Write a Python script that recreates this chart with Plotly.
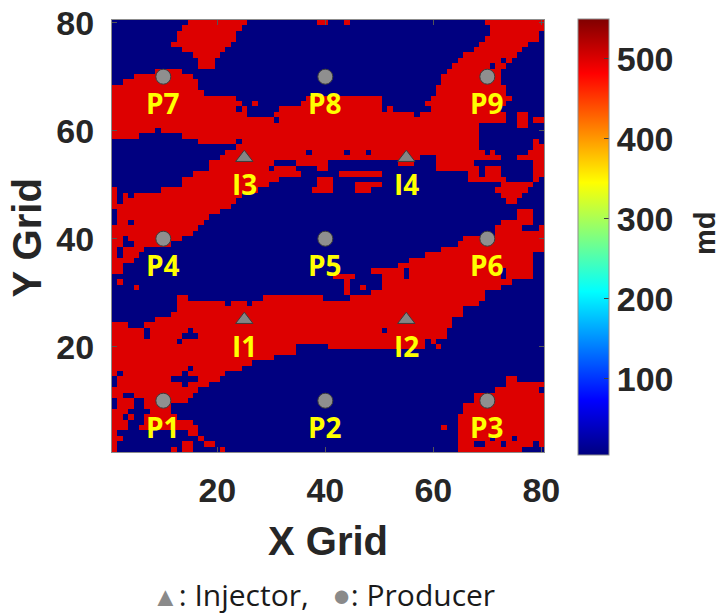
import numpy as np
import plotly.graph_objects as go

# Permeability of the two facies (md)
LOW_MD = 5
HIGH_MD = 500
CBAR_MIN, CBAR_MAX = 5, 550
N_CELLS = 80

# High-permeability channel cells, one entry per grid row from the top row (y = 80)
# down to the bottom row (y = 1); each run is an inclusive (first column, last column).
CHANNEL_RUNS = [
    [(15, 25), (39, 40), (44, 44), (70, 80)],
    [(14, 24), (71, 80)],
    [(13, 23), (71, 79)],
    [(13, 23), (70, 79)],
    [(12, 22), (69, 77)],
    [(14, 21), (68, 76)],
    [(16, 20), (66, 75)],
    [(17, 19), (65, 72), (74, 74)],
    [(17, 19), (64, 70), (72, 73)],
    [(9, 13), (63, 72)],
    [(5, 15), (62, 72)],
    [(3, 16), (62, 72)],
    [(1, 16), (61, 73)],
    [(1, 17), (61, 73)],
    [(1, 23), (37, 50), (60, 74)],
    [(1, 24), (27, 27), (36, 50), (59, 73)],
    [(1, 23), (25, 25), (32, 50), (52, 52), (60, 72)],
    [(1, 25), (31, 56), (58, 73), (76, 77)],
    [(1, 30), (32, 73), (76, 77), (79, 80)],
    [(1, 68), (76, 77)],
    [(1, 8), (10, 68)],
    [(1, 5), (14, 68)],
    [(17, 23), (25, 68), (79, 79)],
    [(24, 68), (79, 80)],
    [(22, 36), (38, 43), (45, 47), (49, 69), (71, 71), (78, 80)],
    [(21, 57), (61, 72), (76, 80)],
    [(19, 30), (35, 40), (54, 56), (61, 67), (79, 80)],
    [(19, 29), (31, 34), (39, 40), (61, 68), (70, 72), (79, 80)],
    [(16, 35), (43, 50), (67, 68), (70, 72), (79, 80)],
    [(14, 31), (39, 41), (67, 73), (79, 79)],
    [(14, 29), (39, 41), (46, 50), (73, 78)],
    [(1, 1), (10, 27), (38, 41), (46, 48), (72, 77)],
    [(1, 1), (3, 3), (5, 24), (73, 76)],
    [(1, 1), (3, 23), (74, 75)],
    [(1, 22)],
    [(2, 20), (76, 78)],
    [(2, 18), (76, 78)],
    [(2, 3), (5, 17), (73, 78)],
    [(1, 16), (72, 76), (80, 80)],
    [(1, 15), (72, 80)],
    [(1, 2), (4, 13), (66, 80)],
    [(1, 2), (5, 11), (65, 80)],
    [(1, 1), (3, 6), (62, 80)],
    [(1, 1), (3, 5), (59, 78)],
    [(1, 4), (56, 78)],
    [(1, 2), (54, 78)],
    [(1, 2), (49, 54), (56, 72), (74, 78)],
    [(42, 45), (51, 54), (56, 72), (74, 78)],
    [(2, 2), (44, 44), (51, 74)],
    [(5, 5), (44, 44), (47, 47), (51, 72)],
    [(44, 44), (49, 69)],
    [(13, 14), (29, 39), (45, 69)],
    [(13, 21), (23, 25), (27, 68)],
    [(13, 65)],
    [(12, 65)],
    [(9, 63)],
    [(1, 3), (7, 63)],
    [(1, 6), (8, 14), (16, 50), (52, 62)],
    [(1, 6), (8, 13), (17, 62)],
    [(1, 12), (14, 58), (60, 60)],
    [(1, 34), (41, 58), (61, 61)],
    [(1, 34)],
    [(1, 30)],
    [(1, 26)],
    [(1, 14), (16, 24)],
    [(1, 1), (3, 13), (15, 21)],
    [(2, 11), (17, 20), (74, 75)],
    [(2, 13), (15, 18), (74, 80)],
    [(1, 16), (72, 79)],
    [(1, 2), (5, 15), (68, 80)],
    [(2, 4), (7, 14), (68, 80)],
    [(2, 4), (7, 11), (66, 80)],
    [(1, 3), (8, 11), (66, 80)],
    [(1, 2), (4, 4), (7, 12), (65, 80)],
    [(1, 3), (7, 15), (65, 80)],
    [(1, 3), (6, 16), (62, 62), (65, 80)],
    [(1, 1), (15, 16), (65, 80)],
    [(1, 2), (17, 17), (65, 70), (72, 74), (76, 80)],
    [(1, 1), (14, 15), (18, 19), (65, 67), (70, 72), (74, 78), (80, 80)],
    [(1, 1), (12, 12), (14, 15), (21, 21), (65, 76)],
]

# Wells
PRODUCER_NAMES = ["P1", "P2", "P3", "P4", "P5", "P6", "P7", "P8", "P9"]
PRODUCER_X = [10, 40, 70, 10, 40, 70, 10, 40, 70]
PRODUCER_Y = [10, 10, 10, 40, 40, 40, 70, 70, 70]
INJECTOR_NAMES = ["I1", "I2", "I3", "I4"]
INJECTOR_X = [25, 55, 25, 55]
INJECTOR_Y = [25, 25, 55, 55]

AXIS_TICKS = [20, 40, 60, 80]
CBAR_TICKS = [100, 200, 300, 400, 500]

# MATLAB-style jet colormap
JET = [
    [0.0, "rgb(0,0,128)"],
    [0.125, "rgb(0,0,255)"],
    [0.375, "rgb(0,255,255)"],
    [0.625, "rgb(255,255,0)"],
    [0.875, "rgb(255,0,0)"],
    [1.0, "rgb(128,0,0)"],
]

# Permeability grid, row index = y - 1
perm = np.full((N_CELLS, N_CELLS), LOW_MD, dtype=float)
for i, runs in enumerate(CHANNEL_RUNS):
    row = N_CELLS - 1 - i
    for first, last in runs:
        perm[row, first - 1:last] = HIGH_MD

cells = list(range(1, N_CELLS + 1))

DARK = "#262626"
AX_FONT = dict(family="Liberation Sans, Arial, sans-serif", size=34, color=DARK, weight="bold")
LABEL_FONT = dict(family="Open Sans, sans-serif", size=28, color="#FFFF00", weight="bold")

fig = go.Figure()

fig.add_trace(go.Heatmap(
    x=cells, y=cells, z=perm,
    colorscale=JET, zmin=CBAR_MIN, zmax=CBAR_MAX,
    hoverinfo="skip",
    colorbar=dict(
        thickness=31, thicknessmode="pixels",
        len=436, lenmode="pixels",
        x=1.0787, xanchor="left", xpad=0,
        y=0.4977, yanchor="middle", ypad=0,
        outlinewidth=1, outlinecolor="#8c8c8c",
        tickvals=CBAR_TICKS, ticks="inside", ticklen=5,
        tickcolor="#404040",
        tickfont=AX_FONT,
    ),
))

fig.add_trace(go.Scatter(
    x=INJECTOR_X, y=INJECTOR_Y, mode="markers",
    marker=dict(symbol="triangle-up", size=15, color="#858585",
                line=dict(color="#3c3c3c", width=1)),
    hoverinfo="skip", showlegend=False,
))
fig.add_trace(go.Scatter(
    x=PRODUCER_X, y=PRODUCER_Y, mode="markers",
    marker=dict(symbol="circle", size=15, color="#8f8f8f",
                line=dict(color="#3c3c3c", width=1)),
    hoverinfo="skip", showlegend=False,
))

annotations = []
for name, x, y in list(zip(PRODUCER_NAMES, PRODUCER_X, PRODUCER_Y)) + \
        list(zip(INJECTOR_NAMES, INJECTOR_X, INJECTOR_Y)):
    annotations.append(dict(
        x=x, y=y, xref="x", yref="y", text=name, showarrow=False,
        yshift=-26, font=LABEL_FONT,
    ))

TITLE_FONT = dict(family="Liberation Sans, Arial, sans-serif", size=40, color=DARK, weight="bold")
NBSP = "\u00a0"
annotations += [
    dict(x=0.5, y=-0.206, xref="paper", yref="paper", text="X Grid",
         showarrow=False, font=TITLE_FONT, xanchor="center", yanchor="middle"),
    dict(x=-0.196, y=0.495, xref="paper", yref="paper", text="Y Grid",
         showarrow=False, font=TITLE_FONT, textangle=-90,
         xanchor="center", yanchor="middle"),
    dict(x=1.3727, y=0.507, xref="paper", yref="paper", text="md",
         showarrow=False, textangle=-90, xanchor="center", yanchor="middle",
         font=dict(family="Liberation Sans, Arial, sans-serif", size=29,
                   color=DARK, weight="bold")),
    dict(x=0.49, y=-0.3287, xref="paper", yref="paper",
         text="<span style='color:#8a8a8a;font-size:27px'>\u25B2</span>: Injector,"
              + NBSP * 3 +
              "<span style='color:#8a8a8a;font-size:31px'>\u25CF</span>: Producer",
         showarrow=False, xanchor="center", yanchor="middle",
         font=dict(family="Open Sans, sans-serif", size=30, color="#1a1a1a")),
]

axis_common = dict(
    range=[0.5, N_CELLS + 0.5], tickvals=AXIS_TICKS,
    ticks="inside", ticklen=5, tickcolor="#555555",
    showline=True, linecolor="#8c8c8c", linewidth=1, mirror="ticks",
    showgrid=False, zeroline=False, tickfont=AX_FONT, automargin=False,
)

fig.update_layout(
    width=721, height=615,
    margin=dict(l=112, r=177, t=20, b=163, autoexpand=False),
    paper_bgcolor="white", plot_bgcolor="white",
    xaxis=dict(**axis_common, ticklabelstandoff=8),
    yaxis=dict(**axis_common, ticklabelstandoff=10),
    annotations=annotations,
    showlegend=False,
)

fig.write_html("out.html")
